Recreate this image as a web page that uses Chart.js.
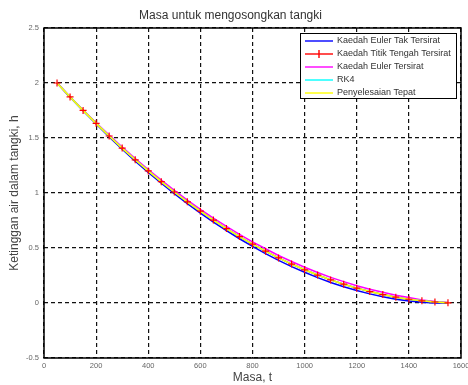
<!DOCTYPE html>
<html><head><meta charset="utf-8">
<script src="https://cdn.jsdelivr.net/npm/chart.js@4"></script>
<style>html,body{margin:0;padding:0;background:#fff}</style>
</head><body>
<canvas id="c" width="468" height="385"></canvas>
<script>
const times = [50,100,150,200,250,300,350,400,450,500,550,600,650,700,750,800,850,900,950,1000,1050,1100,1150,1200,1250,1300,1350,1400,1450,1500,1550];
const eulerExplicit = [2.000,1.871,1.747,1.627,1.510,1.398,1.290,1.188,1.089,0.994,0.904,0.818,0.736,0.658,0.584,0.514,0.449,0.388,0.331,0.279,0.231,0.187,0.148,0.113,0.083,0.057,0.035,0.018,0.007,0.000,0.000];
const midpointImplicit = [2.000,1.873,1.751,1.633,1.518,1.408,1.302,1.201,1.103,1.009,0.920,0.835,0.754,0.677,0.604,0.535,0.471,0.410,0.354,0.302,0.254,0.210,0.171,0.135,0.104,0.077,0.053,0.034,0.020,0.009,0.002];
const eulerImplicit = [2.000,1.875,1.755,1.639,1.526,1.418,1.314,1.214,1.117,1.024,0.936,0.852,0.772,0.696,0.624,0.556,0.493,0.432,0.377,0.325,0.277,0.233,0.194,0.157,0.125,0.097,0.071,0.050,0.028,0.014,0.005];
const rk4 = [2.000,1.873,1.751,1.633,1.518,1.408,1.302,1.201,1.103,1.009,0.920,0.835,0.754,0.677,0.604,0.535,0.471,0.410,0.354,0.302,0.254,0.210,0.171,0.135,0.104,0.077,0.053,0.034,0.020,0.009,0.002];
const exact = [2.000,1.873,1.751,1.633,1.518,1.408,1.302,1.201,1.103,1.009,0.920,0.835,0.754,0.677,0.604,0.535,0.471,0.410,0.354,0.302,0.254,0.210,0.171,0.135,0.104,0.077,0.053,0.034,0.020,0.009,0.002];

const seriesLabels = ['Kaedah Euler Tak Tersirat','Kaedah Titik Tengah Tersirat','Kaedah Euler Tersirat','RK4','Penyelesaian Tepat'];
const seriesColors = ['#0000ff','#ff0000','#ff00ff','#00ffff','#ffff00'];
const seriesValues = [eulerExplicit, midpointImplicit, eulerImplicit, rk4, exact];
const xTicks = [0,200,400,600,800,1000,1200,1400,1600];
const yTicks = [-0.5,0,0.5,1,1.5,2,2.5];

const FONT = "'Liberation Sans', Arial, Helvetica, sans-serif";
const pts = arr => times.map((t,i)=>({x:t,y:arr[i]}));

const datasets = seriesValues.map((vals,i)=>({
  label: seriesLabels[i],
  data: pts(vals),
  borderColor: seriesColors[i],
  backgroundColor: seriesColors[i],
  borderWidth: 1.5,
  pointRadius: 0,
  tension: 0,
  fill: false,
  order: 5 - i
}));
// red '+' markers of the midpoint method drawn on top
datasets.push({
  label: seriesLabels[1] + ' (penanda)',
  data: pts(midpointImplicit),
  showLine: false,
  pointStyle: 'cross',
  pointRadius: 3.5,
  pointBorderWidth: 1.2,
  borderColor: seriesColors[1],
  backgroundColor: seriesColors[1],
  order: 0
});

const boxAndLegend = {
  id: 'boxAndLegend',
  afterDraw(chart) {
    const ctx = chart.ctx, a = chart.chartArea;
    ctx.save();
    ctx.setLineDash([]);
    ctx.strokeStyle = '#000';
    ctx.lineWidth = 1.5;
    ctx.strokeRect(a.left, a.top, a.right - a.left, a.bottom - a.top);
    // legend
    const lx = 300, ly = 33, lw = 156, lh = 65;
    ctx.fillStyle = '#fff';
    ctx.fillRect(lx, ly, lw, lh);
    ctx.lineWidth = 1;
    ctx.strokeStyle = '#000';
    ctx.strokeRect(lx + 0.5, ly + 0.5, lw, lh);
    ctx.font = "9px " + FONT;
    ctx.textBaseline = 'middle';
    ctx.textAlign = 'left';
    seriesLabels.forEach((lab, i) => {
      const y = ly + 8 + i * 13;
      ctx.strokeStyle = seriesColors[i];
      ctx.lineWidth = 1.4;
      ctx.beginPath(); ctx.moveTo(305, y); ctx.lineTo(333, y); ctx.stroke();
      if (i === 1) {
        ctx.beginPath(); ctx.moveTo(319, y - 4); ctx.lineTo(319, y + 4); ctx.stroke();
      }
      ctx.fillStyle = '#333';
      ctx.fillText(lab, 337, y);
    });
    ctx.restore();
  }
};

new Chart(document.getElementById('c'), {
  type: 'line',
  data: { datasets },
  plugins: [boxAndLegend],
  options: {
    responsive: false,
    animation: false,
    devicePixelRatio: 1,
    layout: { padding: { left: 0, right: 7, top: 0, bottom: 0 } },
    plugins: {
      legend: { display: false },
      tooltip: { enabled: false },
      title: {
        display: true,
        text: 'Masa untuk mengosongkan tangki',
        color: '#333',
        font: { family: FONT, size: 12, weight: 'normal' },
        padding: { top: 8, bottom: 5.6 }
      }
    },
    scales: {
      x: {
        type: 'linear', min: 0, max: 1600,
        afterFit(s) { s.height = 27; s.paddingRight = 0; s.paddingLeft = 0; },
        afterBuildTicks(s) { s.ticks = xTicks.map(v => ({ value: v })); },
        ticks: { callback: v => String(v), color: '#666', font: { family: FONT, size: 7.5 }, padding: 3, maxRotation: 0, autoSkip: false },
        grid: { color: '#111', lineWidth: 1.2, drawTicks: false },
        border: { display: false, dash: [4, 3] },
        title: { display: true, text: 'Masa, t', color: '#444', font: { family: FONT, size: 12 }, padding: { top: 0, bottom: 0 } }
      },
      y: {
        type: 'linear', min: -0.5, max: 2.5,
        afterFit(s) { s.width = 44; },
        afterBuildTicks(s) { s.ticks = yTicks.map(v => ({ value: v })); },
        ticks: { callback: v => String(v), color: '#666', font: { family: FONT, size: 7.5 }, padding: 5, autoSkip: false },
        grid: { color: '#111', lineWidth: 1.2, drawTicks: false },
        border: { display: false, dash: [4, 3] },
        title: { display: true, text: 'Ketinggan air dalam tangki, h', color: '#444', font: { family: FONT, size: 12 }, padding: { top: 7, bottom: 0 } }
      }
    }
  }
});
</script>
</body></html>
